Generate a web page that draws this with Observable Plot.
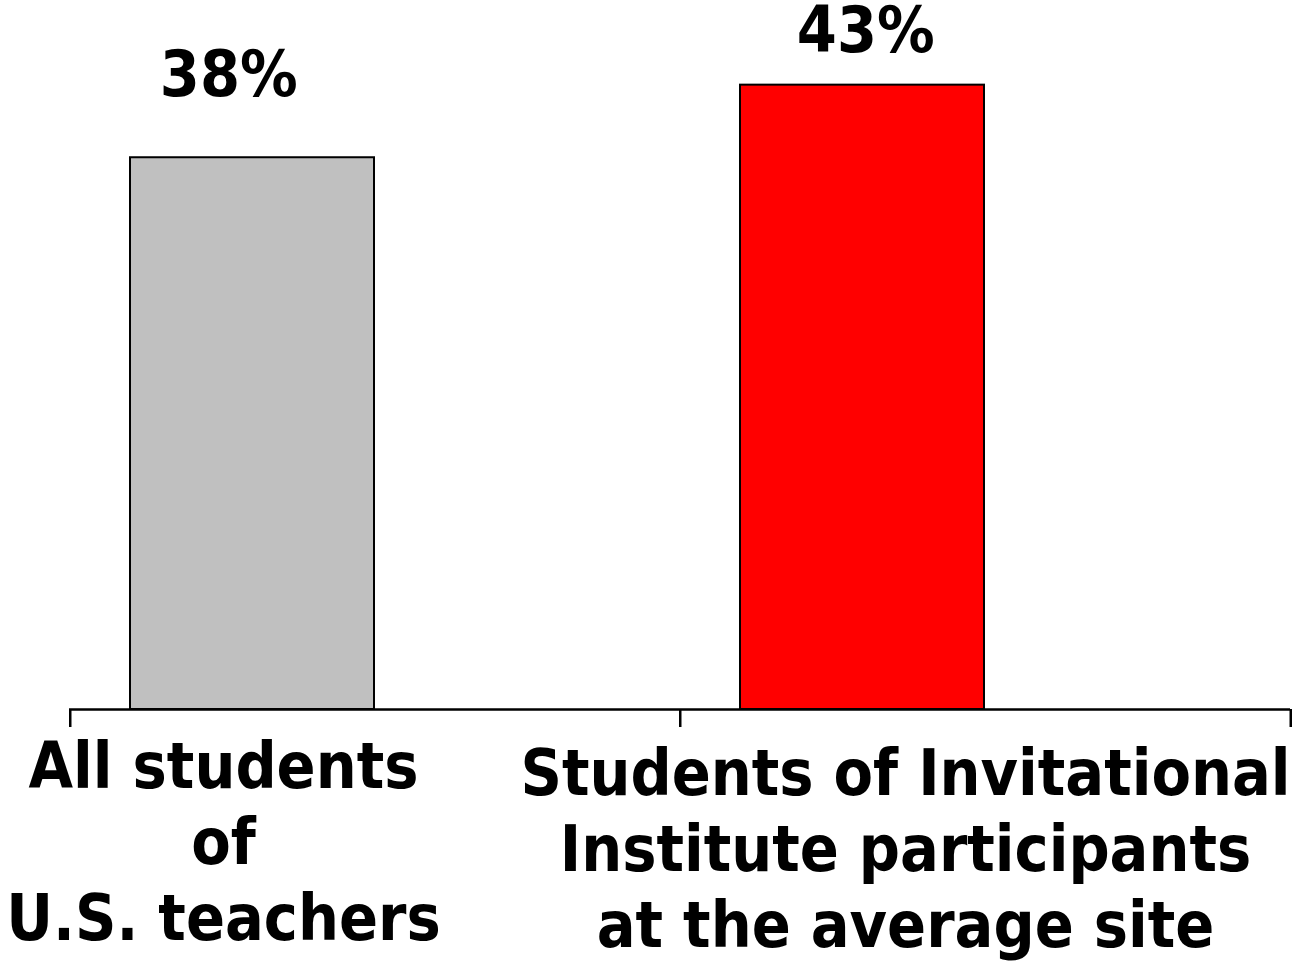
<!DOCTYPE html>
<html><head><meta charset="utf-8">
<script src="https://cdn.jsdelivr.net/npm/d3@7"></script>
<script src="https://cdn.jsdelivr.net/npm/@observablehq/plot@0.6"></script>
<style>
html,body{margin:0;padding:0;background:#fff;overflow:hidden;}
</style></head><body><div id="chart"></div>
<script>
const categories = [
  "All students\nof\nU.S. teachers",
  "Students of Invitational\nInstitute participants\nat the average site"
];
const values = [38, 43];
const valueLabels = ["38%", "43%"];

const data = categories.map((c, i) => ({category: c, value: values[i], label: valueLabels[i]}));

const font = "'DejaVu Sans Condensed', 'DejaVu Sans', sans-serif";
const marginLeft = 69, marginRight = 5, W = 1295;
const bw = (W - marginLeft - marginRight) / categories.length;

const chart = Plot.plot({
  width: W,
  height: 961,
  marginLeft, marginRight,
  marginTop: 0,
  marginBottom: 252,
  style: {fontFamily: font, background: "white", overflow: "visible"},
  x: {domain: categories, padding: 0, axis: null, label: null},
  y: {domain: [0, 48.83], axis: null},
  color: {domain: categories, range: ["#c0c0c0", "#ff0000"]},
  marks: [
    Plot.barY(data, {x: "category", y: "value", fill: "category", stroke: "black", strokeWidth: 2, insetLeft: 60, insetRight: 306}),
    Plot.ruleY([0], {stroke: "black", strokeWidth: 2.5}),
    Plot.axisX({tickSize: 18, tickFormat: () => "", dx: -bw / 2, stroke: "black", strokeWidth: 2.5, strokeOpacity: 1}),
    Plot.axisX({ticks: [categories[1]], tickSize: 18, tickFormat: () => "", dx: bw / 2, stroke: "black", strokeWidth: 2.5, strokeOpacity: 1}),
    Plot.text(data.filter((d, i) => i === 0), {x: "category", y: "value", text: "label", dx: -146.75, dy: -62, lineAnchor: "bottom", fontSize: 64, fontWeight: "bold", fill: "black", fontFamily: font}),
    Plot.text(data.filter((d, i) => i === 1), {x: "category", y: "value", text: "label", dx: -119.75, dy: -33, lineAnchor: "bottom", fontSize: 64, fontWeight: "bold", fill: "black", fontFamily: font}),
    Plot.text(data.filter((d, i) => i === 0), {x: "category", frameAnchor: "bottom", text: "category", dx: -152, dy: 24, lineAnchor: "top", lineHeight: 1.19, fontSize: 64, fontWeight: "bold", fill: "black", fontFamily: font}),
    Plot.text(data.filter((d, i) => i === 1), {x: "category", frameAnchor: "bottom", text: "category", dx: -80, dy: 31, lineAnchor: "top", lineHeight: 1.19, fontSize: 64, fontWeight: "bold", fill: "black", fontFamily: font})
  ]
});
document.getElementById("chart").append(chart);
</script>
</body></html>
